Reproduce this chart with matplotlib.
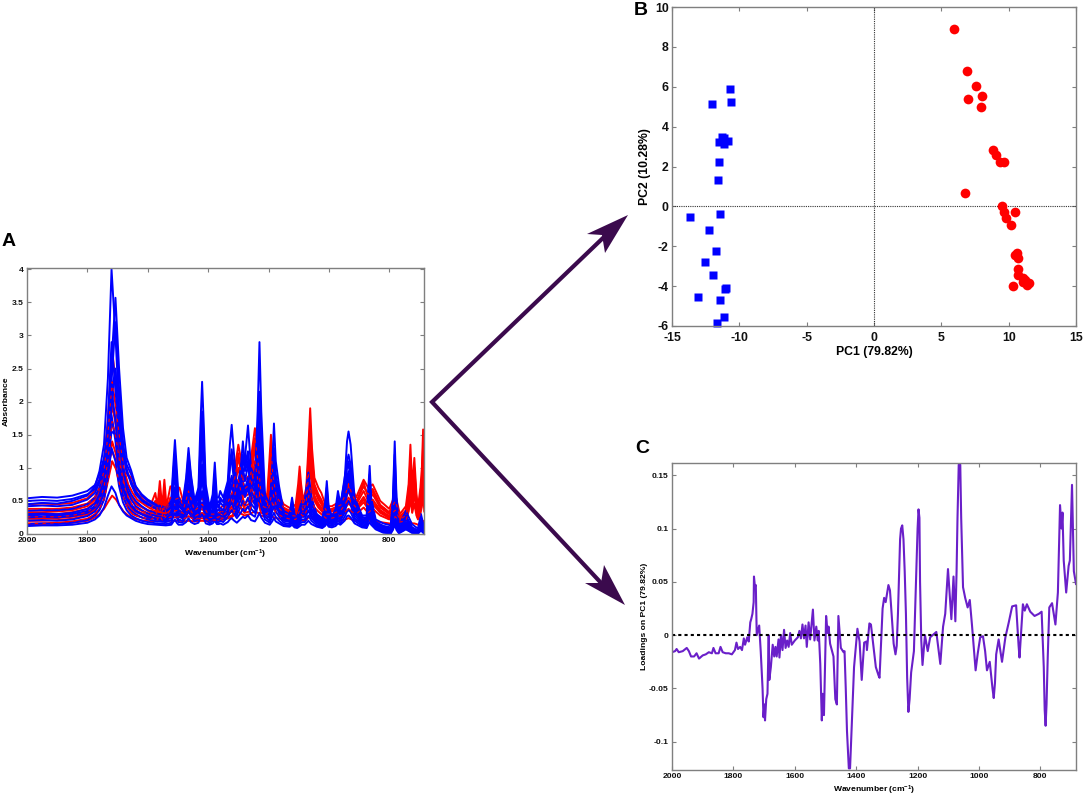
import matplotlib
matplotlib.use("Agg")
import matplotlib.pyplot as plt
from matplotlib.patches import Polygon

plt.rcParams["font.family"] = ["Liberation Sans", "DejaVu Sans"]
plt.rcParams["font.weight"] = "bold"
plt.rcParams["mathtext.default"] = "regular"
plt.rcParams["axes.unicode_minus"] = False

# -------------------------------
# Panel A: spectra
# -------------------------------
blue_wn = [2000, 1950, 1900, 1850, 1800, 1775, 1760, 1745, 1732, 1720,
           1707, 1695, 1682, 1670, 1655, 1640, 1620, 1600, 1570, 1540,
           1522, 1516, 1510, 1504, 1498, 1485, 1473, 1465, 1457, 1445,
           1432, 1426, 1420, 1414, 1408, 1395, 1385, 1378, 1371, 1365,
           1360, 1350, 1335, 1328, 1322, 1316, 1305, 1292, 1285, 1278,
           1268, 1258, 1245, 1236, 1230, 1224, 1212, 1196, 1188, 1182,
           1176, 1165, 1150, 1130, 1122, 1114, 1105, 1090, 1080, 1068,
           1058, 1040, 1022, 1013, 1007, 1001, 990, 978, 970, 962,
           948, 940, 935, 928, 915, 890, 875, 870, 865, 860,
           845, 820, 795, 788, 782, 776, 768, 745, 725, 705,
           695, 685]

blue_1 = [.45, .47, .46, .50, .58, .72, .95, 1.35, 2.35, 4.00,
          3.00, 1.90, 1.30, 1.05, .90, .72, .58, .50, .42, .38,
          .50, 1.00, 1.42, 1.00, .55, .45, .85, 1.30, .90, .50,
          .70, 1.60, 2.30, 1.60, .75, .40, .60, 1.08, .55, .55,
          .65, .55, .80, 1.35, 1.65, 1.30, .70, .85, 1.10, 1.15,
          1.64, 1.00, .85, 1.85, 2.90, 1.85, .60, .45, 1.00, 1.67,
          1.10, .72, .35, .30, .55, .30, .25, .50, .50, .93,
          .55, .28, .22, .45, .80, .42, .26, .38, .65, .45,
          .80, 1.40, 1.55, 1.35, .55, .28, .28, .65, 1.03, .55,
          .22, .16, .13, .55, 1.40, .55, .12, .35, .15, .08,
          .30, .10]
blue_2 = [.54, .56, .55, .58, .65, .74, .90, 1.15, 1.60, 2.60,
          3.57, 2.50, 1.60, 1.15, .96, .72, .60, .52, .44, .40,
          .46, .90, 1.20, .85, .50, .42, .78, 1.20, .85, .48,
          .62, 1.30, 1.85, 1.30, .65, .38, .52, .90, .48, .48,
          .55, .48, .68, 1.05, 1.28, 1.05, .62, 1.00, 1.40, 1.05,
          1.25, .85, .70, 1.45, 2.15, 1.40, .52, .42, .85, 1.30,
          .90, .62, .32, .28, .50, .26, .22, .45, .45, .90,
          .52, .26, .20, .40, .70, .38, .24, .34, .55, .40,
          .70, 1.10, 1.20, 1.05, .48, .25, .25, .55, .90, .48,
          .18, .12, .10, .48, 1.20, .48, .08, .28, .10, .05,
          .25, .06]
blue_3 = [.42, .43, .42, .44, .52, .62, .78, 1.00, 1.45, 2.30,
          3.20, 2.20, 1.40, .98, .75, .60, .50, .44, .38, .34,
          .40, .78, 1.05, .75, .44, .38, .68, 1.05, .75, .42,
          .55, 1.10, 1.60, 1.10, .55, .34, .45, .75, .42, .40,
          .48, .42, .62, .98, 1.20, .95, .55, .88, 1.20, 1.00,
          1.20, .78, .62, 1.25, 1.90, 1.25, .46, .36, .72, 1.10,
          .78, .55, .28, .25, .42, .23, .20, .40, .40, .80,
          .46, .24, .18, .34, .60, .32, .22, .30, .48, .34,
          .62, 1.00, 1.10, .95, .42, .22, .22, .48, .80, .42,
          .16, .10, .07, .40, 1.00, .40, .06, .22, .08, .03,
          .20, .05]
blue_4 = [.35, .36, .36, .38, .45, .55, .70, .95, 1.70, 2.90,
          2.20, 1.40, .95, .75, .60, .50, .42, .36, .31, .28,
          .34, .65, .88, .62, .36, .32, .58, .90, .62, .36,
          .48, .95, 1.35, .92, .48, .30, .38, .62, .35, .36,
          .40, .36, .50, .72, .88, .70, .46, .75, 1.00, .80,
          1.05, .65, .52, 1.00, 1.50, 1.00, .40, .32, .60, .90,
          .65, .48, .25, .23, .36, .21, .18, .35, .35, .65,
          .38, .22, .16, .30, .50, .28, .20, .26, .40, .30,
          .55, .85, .95, .80, .36, .20, .18, .40, .65, .36,
          .14, .08, .05, .32, .80, .32, .05, .18, .06, .02,
          .15, .04]
blue_5 = [.30, .31, .30, .32, .38, .46, .60, .80, 1.25, 1.90,
          2.50, 1.70, 1.05, .68, .52, .42, .36, .31, .27, .24,
          .30, .52, .70, .50, .32, .28, .50, .75, .52, .32,
          .40, .75, 1.05, .72, .40, .26, .34, .50, .30, .30,
          .34, .30, .44, .62, .75, .60, .40, .62, .80, .68,
          .85, .55, .44, .85, 1.25, .85, .34, .28, .50, .72,
          .52, .40, .22, .20, .30, .18, .16, .30, .30, .55,
          .32, .20, .14, .26, .42, .24, .18, .22, .34, .26,
          .48, .75, .82, .70, .32, .18, .16, .34, .55, .30,
          .12, .06, .04, .26, .62, .26, .04, .14, .05, .02,
          .12, .03]
blue_6 = [.25, .26, .25, .27, .32, .40, .52, .72, 1.35, 2.20,
          1.70, 1.05, .70, .52, .42, .35, .30, .25, .22, .20,
          .25, .42, .55, .40, .26, .24, .42, .60, .42, .27,
          .34, .62, .85, .60, .34, .22, .28, .40, .26, .26,
          .28, .26, .36, .50, .60, .50, .34, .52, .65, .56,
          .70, .46, .38, .68, 1.00, .68, .30, .24, .42, .55,
          .42, .32, .20, .18, .26, .16, .14, .26, .26, .45,
          .28, .18, .12, .22, .35, .20, .16, .20, .28, .22,
          .40, .60, .68, .58, .28, .16, .14, .28, .45, .26,
          .10, .05, .03, .20, .48, .20, .03, .12, .04, .01,
          .10, .02]
blue_7 = [.20, .21, .20, .22, .27, .34, .44, .62, 1.10, 1.80,
          1.40, .90, .58, .44, .35, .30, .25, .22, .19, .18,
          .21, .34, .42, .32, .22, .20, .34, .45, .34, .23,
          .28, .48, .65, .46, .28, .20, .24, .32, .22, .22,
          .24, .22, .32, .42, .48, .40, .28, .42, .50, .44,
          .55, .38, .32, .55, .78, .55, .26, .20, .34, .42,
          .34, .26, .17, .15, .22, .14, .12, .22, .22, .36,
          .24, .16, .11, .18, .28, .17, .14, .18, .24, .20,
          .32, .46, .50, .44, .24, .14, .12, .24, .35, .22,
          .09, .04, .02, .15, .35, .15, .02, .10, .03, .01,
          .08, .02]
blue_8 = [.15, .16, .15, .17, .21, .28, .36, .52, .85, 1.30,
          1.10, .72, .48, .36, .28, .24, .20, .18, .16, .15,
          .17, .26, .32, .25, .18, .17, .26, .35, .27, .19,
          .22, .37, .48, .35, .22, .16, .20, .26, .18, .18,
          .20, .18, .26, .32, .36, .32, .24, .32, .38, .34,
          .42, .30, .26, .42, .55, .40, .22, .17, .26, .32,
          .26, .20, .14, .13, .18, .12, .11, .18, .18, .28,
          .20, .13, .10, .15, .22, .14, .12, .15, .20, .16,
          .26, .34, .36, .33, .20, .12, .10, .20, .26, .18,
          .08, .03, .01, .10, .22, .10, .02, .08, .02, .01,
          .06, .01]
blue_9 = [.12, .13, .13, .14, .17, .22, .28, .40, .58, .72,
          .62, .44, .34, .28, .24, .20, .17, .15, .14, .13,
          .14, .18, .22, .17, .14, .14, .18, .24, .18, .15,
          .17, .25, .30, .24, .16, .14, .16, .20, .15, .15,
          .16, .14, .18, .22, .24, .21, .17, .23, .26, .24,
          .28, .21, .19, .26, .32, .25, .17, .14, .19, .24,
          .19, .16, .12, .11, .14, .10, .09, .14, .14, .20,
          .15, .11, .09, .12, .16, .11, .10, .12, .16, .14,
          .20, .27, .28, .25, .16, .10, .09, .14, .18, .14,
          .07, .02, .01, .06, .14, .06, .01, .07, .02, .01,
          .05, .01]
blue_10 = [.50, .51, .50, .53, .60, .68, .82, 1.05, 1.50, 2.20,
           2.45, 1.85, 1.25, .92, .80, .64, .52, .46, .38, .34,
           .42, .72, .95, .68, .42, .36, .62, .95, .68, .42,
           .58, 1.05, 1.40, .98, .60, .36, .48, .70, .46, .42,
           .50, .50, .72, 1.05, 1.10, .88, .72, .95, 1.15, .95,
           1.10, .72, .85, 1.10, 1.65, 1.15, .50, .38, .70, .98,
           .68, .50, .30, .26, .40, .24, .22, .38, .42, .78,
           .50, .30, .24, .36, .55, .34, .26, .32, .50, .42,
           .85, 1.05, 1.02, .90, .50, .26, .22, .42, .72, .40,
           .18, .12, .09, .38, .88, .36, .08, .24, .10, .05,
           .18, .05]
blue_11 = [.28, .29, .28, .30, .35, .42, .54, .72, 1.05, 1.55,
           1.50, 1.10, .76, .56, .44, .36, .30, .27, .23, .22,
           .27, .44, .60, .44, .28, .26, .44, .66, .46, .30,
           .38, .68, .90, .64, .38, .26, .32, .44, .30, .28,
           .36, .36, .52, .78, .85, .66, .52, .60, .72, .62,
           .78, .52, .50, .78, 1.15, .72, .36, .28, .46, .60,
           .46, .36, .24, .20, .30, .20, .16, .30, .32, .58,
           .38, .22, .16, .26, .38, .24, .18, .24, .36, .30,
           .58, .80, .88, .76, .40, .22, .18, .30, .50, .28,
           .12, .08, .06, .25, .55, .24, .05, .16, .06, .03,
           .14, .03]

red_wn = [2000, 1950, 1900, 1850, 1800, 1775, 1760, 1745, 1732, 1718,
          1705, 1692, 1680, 1665, 1650, 1635, 1610, 1590, 1575, 1568,
          1560, 1552, 1545, 1538, 1525, 1510, 1495, 1480, 1465, 1445,
          1420, 1400, 1370, 1345, 1320, 1308, 1300, 1292, 1280, 1262,
          1255, 1245, 1235, 1225, 1205, 1198, 1192, 1186, 1175, 1150,
          1125, 1110, 1102, 1097, 1092, 1085, 1075, 1068, 1062, 1056,
          1048, 1035, 1025, 1010, 990, 960, 945, 935, 925, 910,
          885, 870, 855, 830, 800, 780, 765, 745, 736, 730,
          724, 717, 710, 705, 697, 692, 688, 684]

red_1 = [.45, .46, .45, .47, .54, .66, .82, 1.10, 1.75, 2.80,
         2.20, 1.60, 1.15, .90, .82, .62, .50, .44, .62, .42,
         .80, .40, .82, .42, .72, .70, .70, .45, .85, .40,
         .55, .35, .35, .45, .75, 1.10, 1.35, 1.15, .80, .90,
         1.25, 1.60, 1.25, .75, .55, 1.05, 1.50, 1.05, .68, .45,
         .38, .45, .75, 1.02, .75, .50, .70, 1.30, 1.90, 1.30,
         .85, .70, .62, .42, .42, .50, .70, .90, .72, .55,
         .82, .70, .75, .50, .38, .60, .30, .42, .75, 1.35,
         .70, 1.15, .60, .40, .70, 1.00, 1.58, .75]
red_2 = [.38, .38, .38, .40, .46, .56, .70, .95, 1.50, 2.30,
         1.90, 1.40, 1.00, .75, .62, .52, .44, .38, .50, .36,
         .62, .34, .62, .36, .55, .52, .55, .40, .65, .35,
         .45, .30, .30, .38, .62, .95, 1.15, .95, .68, .75,
         1.10, 1.45, 1.10, .62, .48, .90, 1.30, .90, .58, .40,
         .34, .38, .62, .85, .62, .44, .62, 1.15, 1.65, 1.15,
         .75, .60, .52, .36, .38, .44, .60, .76, .62, .48,
         .72, .60, .68, .44, .33, .50, .26, .36, .65, 1.15,
         .62, 1.00, .52, .35, .60, .85, 1.35, .65]
red_3 = [.30, .30, .30, .33, .38, .48, .60, .82, 1.30, 2.00,
         1.70, 1.22, .88, .64, .50, .44, .38, .34, .42, .32,
         .50, .30, .50, .32, .44, .42, .44, .34, .50, .30,
         .38, .27, .27, .34, .52, .82, 1.00, .82, .56, .62,
         .95, 1.30, .95, .52, .42, .75, 1.10, .75, .50, .36,
         .30, .32, .52, .72, .52, .38, .54, 1.00, 1.45, 1.00,
         .66, .52, .45, .32, .34, .40, .52, .65, .54, .44,
         .65, .50, .60, .40, .30, .42, .24, .32, .58, 1.00,
         .52, .88, .46, .32, .52, .72, 1.15, .58]
red_4 = [.26, .26, .26, .28, .33, .42, .52, .70, 1.12, 1.70,
         1.45, 1.05, .76, .55, .42, .38, .33, .30, .36, .28,
         .42, .27, .42, .28, .36, .35, .36, .30, .40, .27,
         .32, .25, .25, .30, .42, .66, .82, .66, .46, .52,
         .80, 1.10, .80, .44, .38, .62, .92, .62, .44, .32,
         .28, .27, .44, .60, .44, .34, .48, .85, 1.25, .85,
         .58, .46, .40, .30, .30, .36, .46, .55, .48, .40,
         .56, .44, .52, .36, .27, .36, .22, .28, .50, .85,
         .46, .75, .40, .28, .44, .62, .98, .50]
red_5 = [.20, .20, .21, .23, .28, .36, .44, .62, .95, 1.40,
         1.20, .88, .64, .45, .36, .32, .28, .26, .30, .25,
         .34, .24, .34, .25, .30, .28, .30, .26, .32, .24,
         .28, .23, .23, .27, .34, .52, .65, .52, .38, .42,
         .65, .90, .65, .38, .34, .52, .75, .52, .38, .28,
         .25, .25, .36, .48, .36, .30, .42, .70, 1.00, .70,
         .50, .40, .35, .27, .27, .32, .40, .46, .42, .36,
         .48, .38, .45, .32, .24, .30, .20, .24, .42, .70,
         .38, .62, .34, .25, .38, .52, .80, .42]
red_6 = [.16, .16, .17, .19, .23, .30, .38, .52, .80, 1.10,
         .98, .72, .54, .38, .30, .27, .24, .22, .26, .22,
         .28, .21, .28, .22, .26, .25, .26, .23, .27, .22,
         .24, .21, .21, .24, .28, .40, .48, .40, .32, .34,
         .50, .65, .50, .32, .30, .42, .55, .42, .32, .25,
         .22, .22, .30, .36, .30, .26, .34, .52, .72, .52,
         .40, .34, .30, .24, .24, .28, .34, .38, .34, .30,
         .40, .32, .38, .28, .22, .26, .18, .20, .34, .52,
         .32, .46, .28, .22, .30, .42, .60, .34]
red_7 = [.15, .15, .16, .17, .20, .25, .30, .38, .48, .58,
         .52, .42, .34, .28, .24, .22, .20, .19, .20, .19,
         .21, .19, .21, .19, .20, .20, .20, .19, .20, .19,
         .20, .19, .20, .22, .26, .31, .34, .31, .28, .30,
         .32, .34, .32, .28, .25, .27, .28, .26, .24, .22,
         .20, .19, .20, .22, .21, .20, .21, .25, .28, .25,
         .22, .20, .20, .18, .18, .20, .22, .24, .22, .20,
         .22, .20, .20, .18, .16, .14, .12, .14, .16, .18,
         .16, .16, .15, .14, .15, .17, .20, .16]
red_8 = [.33, .33, .34, .36, .42, .52, .66, .88, 1.38, 1.95,
         1.62, 1.18, .84, .60, .54, .46, .38, .32, .36, .30,
         .46, .30, .44, .30, .40, .44, .48, .36, .56, .32,
         .42, .30, .30, .36, .58, .92, 1.22, .98, .62, .66,
         1.00, 1.38, 1.02, .58, .46, .82, 1.18, .80, .54, .38,
         .32, .36, .58, .78, .56, .42, .58, 1.08, 1.55, 1.08,
         .72, .56, .48, .34, .36, .42, .58, .70, .60, .46,
         .78, .55, .64, .42, .32, .46, .25, .34, .62, 1.05,
         .58, .95, .50, .36, .56, .80, 1.25, .62]
red_9 = [.23, .23, .24, .26, .30, .38, .48, .66, 1.05, 1.25,
         1.10, .95, .70, .48, .38, .34, .30, .27, .32, .26,
         .38, .25, .36, .26, .32, .30, .34, .28, .36, .25,
         .30, .24, .24, .28, .38, .58, .72, .58, .42, .46,
         .72, 1.00, .72, .40, .36, .56, .82, .56, .40, .30,
         .26, .26, .40, .54, .40, .32, .44, .78, 1.12, .78,
         .54, .42, .38, .28, .28, .34, .42, .50, .44, .38,
         .52, .40, .48, .34, .25, .32, .20, .26, .46, .78,
         .42, .68, .38, .30, .42, .58, .90, .46]

blue_curves = [blue_1, blue_2, blue_3, blue_10, blue_4, blue_5, blue_11, blue_6, blue_7, blue_8, blue_9]
red_curves = [red_1, red_2, red_8, red_3, red_4, red_9, red_5, red_6, red_7]

# -------------------------------
# Panel B: scores
# -------------------------------
blue_pc1 = [-10.7, -10.6, -12.0, -11.26, -11.16, -10.84, -11.53, -11.14, -11.53, -11.56, -11.46,
            -13.64, -12.28, -11.71, -12.52, -11.98, -10.99, -11.06, -13.04, -11.41, -11.14, -11.68]
blue_pc2 = [5.88, 5.26, 5.11, 3.47, 3.42, 3.28, 3.22, 3.13, 2.23, 1.31, -0.37,
            -0.54, -1.16, -2.23, -2.78, -3.43, -4.09, -4.14, -4.56, -4.69, -5.54, -5.83]
red_pc1 = [5.94, 6.91, 7.6, 8.0, 6.98, 7.95, 8.86, 9.06, 9.36, 9.68, 6.78, 9.48, 9.68, 10.47,
           9.8, 10.17, 10.62, 10.45, 10.67, 10.67, 10.7, 11.06, 11.24, 11.06, 11.51, 11.34, 10.35]
red_pc2 = [8.91, 6.77, 6.06, 5.54, 5.38, 4.96, 2.83, 2.58, 2.24, 2.21, 0.65, 0.0, -0.28, -0.3,
           -0.59, -0.95, -2.36, -2.43, -2.58, -3.13, -3.43, -3.57, -3.67, -3.79, -3.85, -3.95, -3.99]

# -------------------------------
# Panel C: loadings
# -------------------------------
load_wn = [2000, 1990, 1985, 1978, 1965, 1952, 1945, 1938, 1928, 1920, 1912, 1900, 1890, 1880,
           1870, 1865, 1858, 1848, 1842, 1835, 1825, 1815, 1805, 1795, 1790, 1785, 1778, 1772,
           1766, 1762, 1755, 1750, 1745, 1742, 1738, 1734, 1733, 1730, 1727, 1724, 1716, 1711,
           1705, 1702, 1699, 1697, 1693, 1689, 1685, 1683, 1678, 1675, 1672, 1667, 1663, 1659,
           1653, 1650, 1645, 1640, 1635, 1630, 1625, 1620, 1615, 1610, 1600, 1590, 1585, 1580,
           1575, 1570, 1565, 1561, 1555, 1550, 1541, 1536, 1530, 1525, 1522, 1517, 1512, 1509,
           1505, 1498, 1493, 1490, 1485, 1474, 1468, 1463, 1458, 1450, 1441, 1438, 1434, 1430, 1424,
           1420, 1414, 1410, 1407, 1396, 1389, 1382, 1374, 1367, 1365, 1357, 1352, 1343, 1336, 1327,
           1324, 1314, 1309, 1304, 1295, 1290, 1287, 1278, 1272, 1268, 1264, 1260, 1257, 1254, 1250,
           1246, 1242, 1238, 1234, 1230, 1226, 1221, 1212, 1204, 1200, 1197, 1194, 1192, 1188, 1184,
           1176, 1167, 1159, 1139, 1126, 1117, 1110, 1101, 1090, 1083, 1077, 1073, 1070, 1066, 1061,
           1058, 1052, 1045, 1037, 1030, 1023, 1011, 1004, 996, 987, 980, 974, 965, 956, 952, 948,
           944, 936, 925, 914, 903, 892, 879, 871, 868, 857, 851,
           844, 833, 819, 805, 796, 789, 786, 783, 780, 776, 771, 762, 751, 743, 736, 731,
           728, 724, 716, 708, 704, 697, 691, 684]
load_val = [-.016, -.015, -.013, -.016, -.015, -.012, -.015, -.020, -.020, -.017, -.022, -.019, -.018, -.016,
            -.017, -.012, -.017, -.017, -.011, -.016, -.017, -.017, -.018, -.014, -.007, -.013, -.011, -.014,
            -.003, -.009, -.002, -.006, .012, .015, .020, .031, .055, .046, .047, .000, .009, -.015,
            -.050, -.077, -.065, -.080, -.060, -.055, .000, -.042, -.030, -.020, -.009, -.020, -.011, -.020,
            -.004, -.021, .000, -.014, .005, -.012, -.005, -.011, .002, -.009, -.005, -.002, .004, -.003,
            .010, -.003, .009, -.011, .012, -.004, .024, -.005, .008, -.005, .004, -.027, -.080, -.055,
            -.075, .018, .002, .008, -.008, -.020, -.060, -.065, .018, -.012, -.016, -.015, -.050, -.090, -.125,
            -.125, -.080, -.050, -.030, .006, -.006, -.042, -.007, -.006, -.014, .011, .010, -.012, -.030, -.038,
            -.040, .025, .035, .031, .047, .042, .030, -.008, -.018, -.010, .020, .060, .090, .100, .103,
            .090, .060, .020, -.040, -.072, -.060, -.035, -.015, .060, .100, .118, .110, .050, -.005, -.028,
            .000, -.015, -.002, .003, -.027, .008, .020, .062, .015, .055, .013, .060, .110, .160, .160,
            .110, .045, .035, .026, .033, .010, -.033, -.017, -.002, -.001, -.015, -.033, -.025, -.050, -.059, -.045,
            -.018, -.004, -.025, -.002, .012, .027, .028, -.010, -.021, .029, .023,
            .029, .022, .018, .020, .022, -.030, -.070, -.085, -.065, -.020, .026, .030, .010, .040, .122, .100,
            .115, .070, .040, .065, .070, .141, .060, .048]

WIDTH, HEIGHT = 1084, 796
GREY = "#7f7f7f"


def add_panel(left, top, right, bottom):
    # pixel box from the reference -> figure fractions
    ax = fig.add_axes([left / WIDTH, 1 - bottom / HEIGHT, (right - left) / WIDTH, (bottom - top) / HEIGHT])
    for side in ax.spines.values():
        side.set_color(GREY)
        side.set_linewidth(1.0)
    return ax


def style_ticks(ax, size, pad=2.5):
    ax.tick_params(direction="in", top=True, right=True, length=3, width=0.8, color=GREY,
                   labelsize=size, pad=pad, labelcolor="#111111")


fig = plt.figure(figsize=(WIDTH / 100, HEIGHT / 100), dpi=100)

# panel A
ax_a = add_panel(27, 268, 424, 534)
for curve in red_curves:
    ax_a.plot(red_wn, curve, color="#ff0000", lw=1.4)
for curve in blue_curves:
    ax_a.plot(blue_wn, curve, color="#0000ff", lw=1.4)
for curve in [red_2, red_4, red_6]:
    ax_a.plot(red_wn, curve, color="#ff0000", lw=0.8, ls=(0, (3, 4)))
ax_a.set_xlim(2000, 685)
ax_a.set_ylim(0, 4.02)
ax_a.set_xticks([2000, 1800, 1600, 1400, 1200, 1000, 800])
ax_a.set_yticks([0, 0.5, 1, 1.5, 2, 2.5, 3, 3.5, 4])
ax_a.set_yticklabels(["0", "0.5", "1", "1.5", "2", "2.5", "3", "3.5", "4"])
style_ticks(ax_a, 6.1)
ax_a.set_xlabel("Wavenumber (cm$^{-1}$)", fontsize=6.1, labelpad=2.5, fontweight="bold")
ax_a.set_ylabel("Absorbance", fontsize=6.1, fontweight="bold")
ax_a.yaxis.set_label_coords(-0.043, 0.5)

# panel B
ax_b = add_panel(672, 7, 1076, 326)
ax_b.axhline(0, color="#333333", lw=0.8, ls=(0, (1, 1)))
ax_b.axvline(0, color="#333333", lw=0.8, ls=(0, (1, 1)))
ax_b.plot(blue_pc1, blue_pc2, ls="none", marker="s", ms=5.6, color="#0000ff", mec="none", clip_on=False)
ax_b.plot(red_pc1, red_pc2, ls="none", marker="o", ms=7, color="#ff0000", mec="none")
ax_b.set_xlim(-15, 15)
ax_b.set_ylim(-6, 10)
ax_b.set_xticks(range(-15, 16, 5))
ax_b.set_yticks(range(-6, 11, 2))
style_ticks(ax_b, 8.8)
ax_b.tick_params(axis="x", pad=4)
ax_b.set_xlabel("PC1 (79.82%)", fontsize=8.8, labelpad=1.5, fontweight="bold")
ax_b.set_ylabel("PC2 (10.28%)", fontsize=8.8, fontweight="bold")
ax_b.yaxis.set_label_coords(-0.052, 0.5)

# panel C
ax_c = add_panel(672, 463, 1076, 770)
ax_c.plot(load_wn, load_val, color="#6a1fc9", lw=1.5)
ax_c.axhline(0, color="black", lw=1.5, ls=(0, (1.5, 1.5)))
ax_c.set_xlim(2000, 684)
ax_c.set_ylim(-0.1265, 0.1615)
ax_c.set_xticks([2000, 1800, 1600, 1400, 1200, 1000, 800])
ax_c.set_yticks([-0.1, -0.05, 0, 0.05, 0.1, 0.15])
ax_c.set_yticklabels(["-0.1", "-0.05", "0", "0.05", "0.1", "0.15"])
style_ticks(ax_c, 6.1)
ax_c.set_xlabel("Wavenumber (cm$^{-1}$)", fontsize=6.1, labelpad=2.5, fontweight="bold")
ax_c.set_ylabel("Loadings on PC1 (79.82%)", fontsize=6.1, fontweight="bold")
ax_c.yaxis.set_label_coords(-0.059, 0.5)

# panel letters
fig.text(2 / WIDTH, 1 - 246 / HEIGHT, "A", fontsize=14, fontweight="bold", va="baseline")
fig.text(634 / WIDTH, 1 - 15 / HEIGHT, "B", fontsize=14, fontweight="bold", va="baseline")
fig.text(635 / WIDTH, 1 - 453 / HEIGHT, "C", fontsize=14, fontweight="bold", va="baseline")

# arrows, drawn in pixel space over the whole figure
over = fig.add_axes([0, 0, 1, 1], facecolor="none")
over.set_xlim(0, WIDTH)
over.set_ylim(HEIGHT, 0)
over.axis("off")
ARROW = "#3b0a4d"
over.plot([604, 432, 603], [237, 402, 585], color=ARROW, lw=3.0, solid_joinstyle="miter")
over.add_patch(Polygon([(628, 215), (587, 234), (602, 235), (605, 253)], closed=True, color=ARROW, lw=0))
over.add_patch(Polygon([(625, 605), (585, 583), (601, 583), (604, 565)], closed=True, color=ARROW, lw=0))

fig.savefig("out.png", dpi=100)
